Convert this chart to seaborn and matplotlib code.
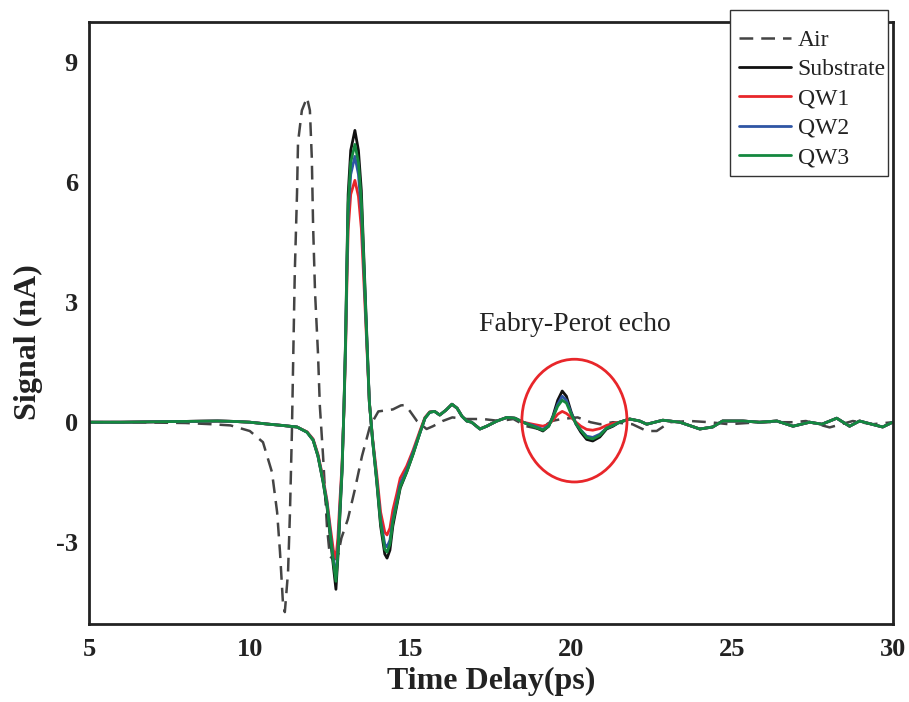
import numpy as np
import pandas as pd
import matplotlib
matplotlib.use("Agg")
import matplotlib.pyplot as plt
from matplotlib.patches import Ellipse, Rectangle
from matplotlib.ticker import MultipleLocator
import seaborn as sns

# ---------------- data ----------------
t_sample = [5.0, 6.0, 7.0, 8.0, 9.0, 9.5, 10.0, 10.6, 11.0, 11.47, 11.78, 11.97, 12.12,
            12.28, 12.4, 12.5, 12.6, 12.68, 12.74, 12.8, 12.87, 12.93, 12.98, 13.02, 13.06,
            13.14, 13.27, 13.38, 13.47, 13.55, 13.63, 13.72, 13.82, 13.95, 14.07, 14.2,
            14.27, 14.36, 14.45, 14.57, 14.68, 14.88, 15.08, 15.3, 15.45, 15.6, 15.75,
            15.91, 16.1, 16.29, 16.45, 16.6, 16.75, 16.9, 17.16, 17.37, 17.69, 18.0, 18.25,
            18.5, 18.8, 19.12, 19.3, 19.43, 19.58, 19.72, 19.85, 20.0, 20.15, 20.3, 20.48,
            20.67, 20.89, 21.1, 21.3, 21.5, 21.82, 22.13, 22.35, 22.85, 23.38, 24.0, 24.4,
            24.71, 25.34, 25.86, 26.4, 26.9, 27.42, 27.8, 28.26, 28.66, 28.97, 29.35,
            29.69, 30.0]

substrate = [0, 0, 0.01, 0.02, 0.03, 0.02, 0, -0.05, -0.08, -0.12, -0.25, -0.45, -0.85,
             -1.5, -2.1, -2.85, -3.6, -4.18, -3.4, -2.4, -1.25, 0.4, 2.1, 4.0, 5.7,
             6.8, 7.3, 6.8, 5.8, 4.1, 2.4, 0.5, -0.45, -1.5, -2.6, -3.3,
             -3.4, -3.2, -2.6, -2.1, -1.65, -1.25, -0.8, -0.25, 0.1, 0.25, 0.27,
             0.18, 0.3, 0.45, 0.35, 0.15, 0.03, 0.0, -0.17, -0.1, 0.03, 0.12, 0.1,
             0.0, -0.1, -0.22, -0.1, 0.15, 0.55, 0.78, 0.65, 0.25, -0.05, -0.25, -0.43,
             -0.47, -0.37, -0.17, -0.1, 0.0, 0.08, 0.03, -0.05, 0.05, 0.0, -0.17, -0.12,
             0.03, 0.03, 0.0, 0.03, -0.1, 0.0, -0.05, 0.1, -0.1, 0.03, -0.05,
             -0.12, 0.0]

qw1 = [0, 0, 0.01, 0.02, 0.03, 0.02, 0, -0.05, -0.08, -0.12, -0.24, -0.42, -0.8,
       -1.4, -1.95, -2.6, -3.2, -3.4, -2.9, -2.0, -1.05, 0.3, 1.8, 3.4, 4.8,
       5.7, 6.05, 5.65, 4.85, 3.5, 2.1, 0.5, -0.4, -1.3, -2.25, -2.75,
       -2.82, -2.65, -2.2, -1.8, -1.4, -1.1, -0.7, -0.2, 0.12, 0.26, 0.27,
       0.18, 0.3, 0.45, 0.35, 0.15, 0.03, 0.0, -0.17, -0.1, 0.03, 0.12, 0.1,
       0.0, -0.05, -0.1, -0.05, 0.05, 0.2, 0.27, 0.22, 0.12, 0.0, -0.1, -0.18,
       -0.2, -0.16, -0.08, -0.03, 0.0, 0.08, 0.03, -0.05, 0.05, 0.0, -0.17, -0.12,
       0.03, 0.03, 0.0, 0.03, -0.1, 0.0, -0.05, 0.1, -0.1, 0.03, -0.05,
       -0.12, 0.0]

qw2 = [0, 0, 0.01, 0.02, 0.03, 0.02, 0, -0.05, -0.08, -0.12, -0.25, -0.44, -0.83,
       -1.45, -2.0, -2.72, -3.45, -3.85, -3.2, -2.2, -1.15, 0.35, 1.95, 3.7, 5.2,
       6.2, 6.65, 6.2, 5.3, 3.8, 2.25, 0.5, -0.43, -1.42, -2.45, -3.05,
       -3.12, -2.95, -2.45, -1.98, -1.55, -1.2, -0.75, -0.25, 0.1, 0.25, 0.27,
       0.18, 0.3, 0.45, 0.35, 0.15, 0.03, 0.0, -0.17, -0.1, 0.03, 0.12, 0.1,
       0.0, -0.08, -0.18, -0.08, 0.12, 0.45, 0.65, 0.55, 0.22, -0.04, -0.2, -0.35,
       -0.38, -0.3, -0.15, -0.08, 0.0, 0.08, 0.03, -0.05, 0.05, 0.0, -0.17, -0.12,
       0.03, 0.03, 0.0, 0.03, -0.1, 0.0, -0.05, 0.1, -0.1, 0.03, -0.05,
       -0.12, 0.0]

qw3 = [0, 0, 0.01, 0.02, 0.03, 0.02, 0, -0.05, -0.08, -0.12, -0.25, -0.45, -0.84,
       -1.48, -2.05, -2.78, -3.5, -3.98, -3.3, -2.3, -1.2, 0.38, 2.0, 3.85, 5.45,
       6.5, 6.95, 6.5, 5.55, 3.95, 2.3, 0.5, -0.45, -1.47, -2.52, -3.18,
       -3.25, -3.05, -2.5, -2.05, -1.62, -1.25, -0.8, -0.25, 0.1, 0.25, 0.27,
       0.18, 0.3, 0.45, 0.35, 0.15, 0.03, 0.0, -0.17, -0.1, 0.03, 0.12, 0.1,
       0.0, -0.1, -0.2, -0.1, 0.12, 0.4, 0.55, 0.48, 0.2, -0.04, -0.2, -0.38,
       -0.42, -0.33, -0.15, -0.08, 0.0, 0.08, 0.03, -0.05, 0.05, 0.0, -0.17, -0.12,
       0.03, 0.03, 0.0, 0.03, -0.1, 0.0, -0.05, 0.1, -0.1, 0.03, -0.05,
       -0.12, 0.0]

t_air = [5.0, 6.0, 7.0, 8.0, 8.8, 9.4, 10.0, 10.41, 10.69, 10.85, 10.94, 11.03, 11.09,
         11.19, 11.25, 11.31, 11.36, 11.4, 11.47, 11.5, 11.62, 11.78, 11.87, 11.93,
         11.97, 12.03, 12.12, 12.18, 12.28, 12.4, 12.49, 12.62, 12.75, 12.85, 13.05,
         13.27, 13.49, 13.74, 14.0, 14.45, 14.7, 14.83, 14.98, 15.2, 15.5, 15.7, 16.0, 16.3,
         16.75, 17.25, 17.78, 18.2, 18.6, 19.0, 19.4, 19.7, 20.2, 20.6, 20.9, 21.3,
         21.9, 22.35, 22.66, 23.07, 23.7, 24.3, 24.9, 25.86, 26.9, 27.3, 28.04, 28.76,
         29.38, 30.0]

air = [0, 0, -0.01, -0.02, -0.05, -0.08, -0.22, -0.5, -1.25, -2.25, -3.25, -4.5, -4.75,
       -3.75, -2.25, -0.25, 2.0, 3.75, 5.75, 7.0, 7.8, 8.12, 7.8, 6.6,
       4.9, 3.25, 1.75, 0.4, -0.85, -2.6, -3.35, -3.45, -3.3, -2.9, -2.43,
       -1.68, -0.85, -0.1, 0.27, 0.32, 0.42, 0.43, 0.28, 0.03, -0.17, -0.1, 0.03, 0.12,
       0.08, 0.08, 0.03, 0.08, -0.1, -0.17, 0.03, 0.08, 0.12, 0.0, -0.05, 0.0,
       -0.05, -0.22, -0.22, 0.0, 0.03, 0.0, -0.05, 0.0, 0.0, 0.03, -0.13, 0.03,
       -0.05, 0.0]

series_names = ["Substrate", "QW1", "QW2", "QW3"]
series_colors = ["#111111", "#e8262a", "#2f55a4", "#14883f"]

x_ticks = [5, 10, 15, 20, 25, 30]
y_ticks = [-3, 0, 3, 6, 9]

# ---------------- figure ----------------
sns.set_theme(style="white")
plt.rcParams["font.family"] = ["Liberation Serif", "DejaVu Serif"]
plt.rcParams["axes.unicode_minus"] = False

W, H = 909, 702
fig = plt.figure(figsize=(W / 100, H / 100), dpi=100)
ax = fig.add_axes([0.098, 0.111, 0.884, 0.857])

df_air = pd.DataFrame({"t": t_air, "v": air})
sns.lineplot(data=df_air, x="t", y="v", ax=ax, color="#444444", lw=1.8,
             linestyle=(0, (5.5, 3.2)), label="Air", sort=False, estimator=None)

for name, vals, col in zip(series_names, [substrate, qw1, qw2, qw3], series_colors):
    df = pd.DataFrame({"t": t_sample, "v": vals})
    sns.lineplot(data=df, x="t", y="v", ax=ax, color=col, lw=2.0,
                 label=name, sort=False, estimator=None)

ax.set_xlim(5, 30)
ax.set_ylim(-5.05, 10.0)
ax.set_xticks(x_ticks)
ax.set_yticks(y_ticks)
ax.xaxis.set_minor_locator(MultipleLocator(2.5))
ax.yaxis.set_minor_locator(MultipleLocator(1.5))
ax.tick_params(which="major", direction="in", length=9, width=1.6, color="#222222",
               labelsize=19, pad=8, top=False, right=False)
ax.tick_params(which="minor", direction="in", length=5, width=1.6, color="#222222",
               top=False, right=False)
ax.tick_params(axis="x", which="major", pad=10)
for lab in ax.get_xticklabels() + ax.get_yticklabels():
    lab.set_fontweight("bold")
    lab.set_color("#222222")

for sp in ax.spines.values():
    sp.set_linewidth(2.0)
    sp.set_color("#222222")

ax.set_xlabel("Time Delay(ps)", fontsize=23, fontweight="bold", color="#222222", labelpad=4)
ax.set_ylabel("Signal (nA)", fontsize=23, fontweight="bold", color="#222222")
ax.yaxis.set_label_coords(-0.057, 0.468)

# Fabry-Perot annotation
ax.add_patch(Ellipse((20.1, 0.04), width=3.27, height=3.07, fill=False,
                     edgecolor="#e8262a", lw=2.0, zorder=5))
ax.text(20.1, 2.45, "Fabry-Perot echo", fontsize=20, ha="center", va="center",
        color="#222222")

# legend box (drawn as a frame in figure coordinates) + frameless legend
frame = Rectangle((730 / W, 1 - 176 / H), 158 / W, 166 / H, transform=fig.transFigure,
                  facecolor="white", edgecolor="#333333", lw=1.0, clip_on=False,
                  zorder=6)
ax.add_patch(frame)
leg = ax.legend(loc="upper right", bbox_to_anchor=(1.0077, 1.01), fontsize=17,
                frameon=False, handlelength=2.2, handletextpad=0.3,
                labelspacing=0.33, borderpad=0.55, borderaxespad=0.0)
leg.set_zorder(7)
for txt in leg.get_texts():
    txt.set_color("#222222")

fig.savefig("out.png", dpi=100)
